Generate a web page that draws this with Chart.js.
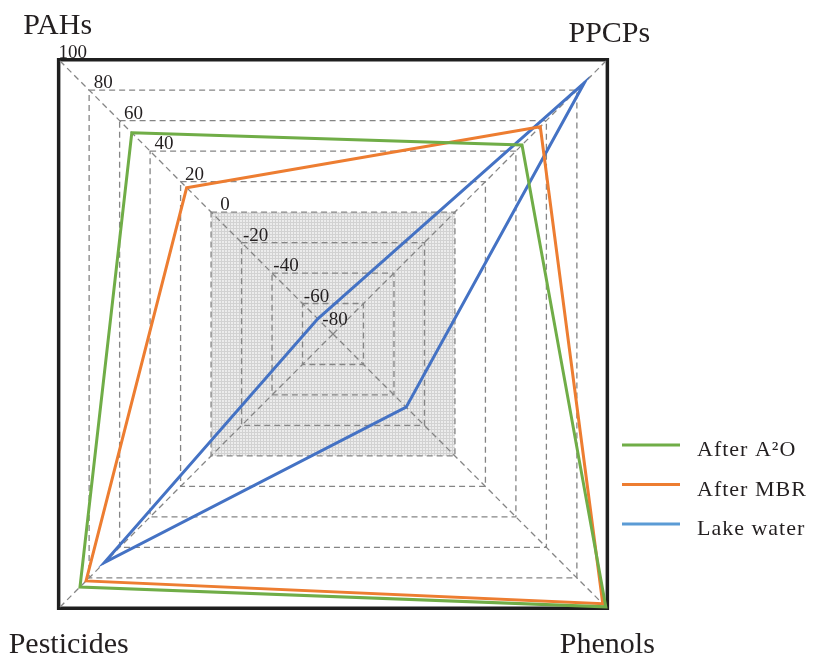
<!DOCTYPE html>
<html>
<head>
<meta charset="utf-8">
<script src="https://cdn.jsdelivr.net/npm/chart.js@4/dist/chart.umd.min.js"></script>
<style>
  html, body { margin: 0; padding: 0; width: 817px; height: 659px; overflow: hidden; background: #fff; }
  /* canvas is bigger than the page so the radar square gets its full size */
  #wrap { position: absolute; left: -55px; top: -54px; width: 872px; height: 776px; }
</style>
</head>
<body>
<div id="wrap"><canvas id="radar"></canvas></div>
<script>
// Data
const categories = ['PAHs', 'PPCPs', 'Phenols', 'Pesticides'];
const seriesNames = ['After A\u00B2O', 'After MBR', 'Lake water'];
const afterA2O = [52, 44, 99, 86];
const afterMBR = [16, 56, 97, 82];
const lakeWater = [-70, 85, -32, 70];
const zeroRing = [0, 0, 0, 0];
const tickMin = -80;
const tickMax = 100;
const tickStep = 20;

const ctx = document.getElementById('radar').getContext('2d');

// light grey checked fill for the part below zero
function makePattern() {
    const c = document.createElement('canvas');
    c.width = 3; c.height = 3;
    const g = c.getContext('2d');
    g.fillStyle = '#ececec';
    g.fillRect(0, 0, 3, 3);
    g.fillStyle = '#d2d2d2';
    g.fillRect(0, 0, 3, 1);
    g.fillRect(0, 0, 1, 3);
    return ctx.createPattern(c, 'repeat');
}

const textPlugin = {
    id: 'cornerText',
    beforeDatasetsDraw(chart) {
        const r = chart.scales.r;
        const c = chart.ctx;
        c.save();
        c.fillStyle = '#231f20';
        c.font = '19px "Liberation Serif"';
        c.textAlign = 'center';
        r.ticks.forEach(t => {
            const p = r.getPointPositionForValue(0, t.value);
            if (t.value === r.min) c.fillText(t.label, p.x + 2, p.y - 9);
            else c.fillText(t.label, p.x + 14, p.y - 2);
        });
        c.restore();
    },
    afterDraw(chart) {
        const r = chart.scales.r;
        const c = chart.ctx;
        c.save();
        c.fillStyle = '#231f20';
        c.textAlign = 'center';
        c.font = '30px "Liberation Serif"';
        const offs = [[-1, -26], [2, -18], [0, 45], [10, 45]];
        chart.data.labels.forEach((lab, i) => {
            const p = r.getPointPositionForValue(i, r.max);
            c.fillText(lab, p.x + offs[i][0], p.y + offs[i][1]);
        });

        // legend
        const x0 = r.xCenter + 289, x1 = r.xCenter + 347;
        c.textAlign = 'left';
        c.font = '22px "Liberation Serif"';
        c.letterSpacing = '1px';
        chart.data.datasets.forEach((ds, i) => {
            if (!ds.legendColor) return;
            const y = r.yCenter + 111 + i * 39.5;
            c.strokeStyle = ds.legendColor;
            c.lineWidth = 3;
            c.beginPath();
            c.moveTo(x0, y);
            c.lineTo(x1, y);
            c.stroke();
            c.fillText(ds.label, r.xCenter + 364, y + 11);
        });
        c.restore();
    }
};

new Chart(ctx, {
    type: 'radar',
    data: {
        labels: categories,
        datasets: [
            { label: seriesNames[0], data: afterA2O, borderColor: '#70ad47', legendColor: '#70ad47', fill: false },
            { label: seriesNames[1], data: afterMBR, borderColor: '#ed7d31', legendColor: '#ed7d31', fill: false },
            { label: seriesNames[2], data: lakeWater, borderColor: '#4472c4', legendColor: '#5b9bd5', fill: false },
            { label: 'below zero', data: zeroRing, borderWidth: 0, borderColor: 'rgba(0,0,0,0)',
              backgroundColor: makePattern(), fill: 'start' }
        ]
    },
    options: {
        responsive: true,
        maintainAspectRatio: false,
        animation: false,
        layout: { padding: { right: 96 } },
        elements: {
            line: { borderWidth: 3, tension: 0, borderJoinStyle: 'miter' },
            point: { radius: 0, hoverRadius: 0 }
        },
        plugins: {
            legend: { display: false },
            tooltip: { enabled: false },
            filler: { drawTime: 'beforeDraw' }
        },
        scales: {
            r: {
                min: tickMin,
                max: tickMax,
                startAngle: -45,
                ticks: { display: false, stepSize: tickStep },
                pointLabels: { display: false },
                grid: {
                    color: c => c.tick.value === tickMax ? '#1f1f1f' : '#858585',
                    lineWidth: c => c.tick.value === tickMax ? 3.5 : 1.3
                },
                border: {
                    dash: c => c.tick.value === tickMax ? [] : [6, 4]
                },
                angleLines: { color: '#858585', lineWidth: 1.3, borderDash: [6, 4] }
            }
        }
    },
    plugins: [textPlugin]
});
</script>
</body>
</html>
